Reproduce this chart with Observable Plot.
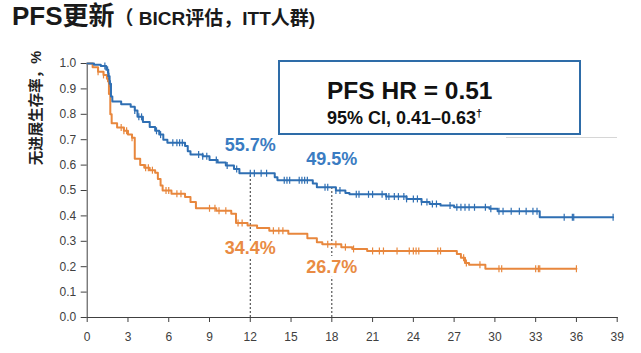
<!DOCTYPE html>
<html><head><meta charset="utf-8">
<script src="https://cdn.jsdelivr.net/npm/d3@7"></script>
<script src="https://cdn.jsdelivr.net/npm/@observablehq/plot@0.6"></script>
<style>
body{margin:0;background:#fff;}
#wrap{position:relative;width:641px;height:353px;font-family:"Liberation Sans",Arial,"Noto Sans CJK SC",sans-serif;overflow:hidden;background:#fff}
#title{position:absolute;left:12px;top:3px;font-weight:bold;color:#1a1a1a;white-space:nowrap;line-height:1}
#ylab{position:absolute;left:34px;top:108px;transform:translate(-50%,-50%) rotate(-90deg);font-size:14.5px;font-weight:bold;color:#222;white-space:nowrap}
#chart{position:absolute;left:0;top:45px}
#box{position:absolute;left:278px;top:60px;width:299px;height:71px;border:2px solid #2e6ca8;background:#fff}
#hr{position:absolute;left:47px;top:15px;font-size:24.5px;font-weight:bold;color:#111;white-space:nowrap}
#ci{position:absolute;left:47px;top:45px;font-size:18px;font-weight:bold;color:#111;white-space:nowrap}
#gline{position:absolute;left:506px;top:137px;width:111px;height:1px;background:#d6d6d6}
</style></head>
<body>
<div id="wrap">
  <div id="title"><span style="font-size:26px">PFS更新</span><span style="font-size:19px">（ BICR评估，ITT人群)</span></div>
  <div id="ylab">无进展生存率，%</div>
  <div id="chart"></div>
  <div id="gline"></div>
  <div id="box"><div id="hr">PFS HR = 0.51</div><div id="ci">95% CI, 0.41–0.63<sup style="font-size:11px">†</sup></div></div>
</div>
<script>
// Kaplan-Meier step data (months, survival probability)
const blueT = [0,0.5,1.0,1.4,1.55,1.65,1.75,1.85,2.5,3.2,3.5,3.7,4.1,4.6,5.0,5.3,5.6,5.9,7.2,7.4,7.6,8.5,9.0,9.6,10.2,10.8,11.2,13.8,14.0,16.6,16.9,18.3,19.0,19.3,22.0,23.5,24.6,25.2,26.0,27.0,29.6,30.2,33.3,38.7];
const blueS = [1.0,0.995,0.99,0.975,0.95,0.92,0.87,0.85,0.84,0.83,0.815,0.79,0.77,0.75,0.735,0.72,0.70,0.688,0.675,0.655,0.642,0.635,0.62,0.61,0.598,0.585,0.568,0.552,0.54,0.528,0.513,0.5,0.49,0.485,0.476,0.467,0.455,0.447,0.441,0.434,0.428,0.418,0.395,0.395];
const orangeT = [0,0.4,0.8,1.2,1.45,1.6,1.7,1.8,2.2,2.7,3.0,3.3,3.5,3.9,4.2,4.6,5.0,5.2,5.4,5.55,6.2,7.2,7.6,8.0,9.5,10.6,10.95,11.8,12.5,13.4,14.8,16.2,16.9,17.3,18.7,19.5,20.6,27.2,27.5,27.8,28.1,29.3,36.0];
const orangeS = [1.0,0.985,0.968,0.955,0.94,0.88,0.80,0.765,0.748,0.735,0.72,0.708,0.625,0.60,0.59,0.58,0.57,0.545,0.52,0.50,0.487,0.474,0.455,0.43,0.42,0.408,0.372,0.362,0.352,0.342,0.33,0.312,0.296,0.288,0.277,0.27,0.262,0.25,0.235,0.215,0.208,0.192,0.192];
// censoring times
const blueC = [1.3,1.5,1.6,1.7,3.5,3.8,4.0,5.1,5.4,6.3,6.6,6.8,7.0,8.2,8.5,8.8,9.5,10.3,11.0,12.0,12.3,12.8,13.2,14.5,14.7,14.9,15.6,15.8,16.0,16.2,17.5,17.7,18.3,18.6,19.8,20.0,20.7,21.0,21.7,22.0,22.2,22.6,22.9,23.3,23.5,24.0,24.3,24.6,25.0,25.4,25.7,26.7,27.2,27.5,27.8,28.1,28.5,29.3,29.7,30.3,30.6,31.2,31.8,32.3,32.8,33.1,35.1,35.7,35.8,38.7];
const orangeC = [0.8,1.2,1.5,2.5,2.7,2.9,3.3,4.3,4.5,4.8,5.8,6.0,6.6,6.9,9.0,9.4,9.7,10.2,11.1,11.4,13.7,14.1,14.4,17.7,18.3,19.0,19.6,21.0,21.5,21.8,22.8,23.7,24.0,24.2,24.4,25.8,26.0,27.7,27.9,28.9,30.3,30.5,33.0,33.2,33.3,36.0];
// landmark annotations
const landmarkT = [12, 18];
const blueLabels = ["55.7%", "49.5%"];
const orangeLabels = ["34.4%", "26.7%"];
const xTicks = [0,3,6,9,12,15,18,21,24,27,30,33,36,39];
const yTicks = [0,0.1,0.2,0.3,0.4,0.5,0.6,0.7,0.8,0.9,1.0];

const BLUE = "#2f6fb3", ORANGE = "#e8873d";
const BLUE_TXT = "#3a7cc2", ORANGE_TXT = "#e98b43";

function stepAt(T, S, t) { let v = S[0]; for (let i = 0; i < T.length; i++) { if (T[i] <= t) v = S[i]; } return v; }
const blueData = blueT.map((t, i) => ({t, s: blueS[i]}));
const orangeData = orangeT.map((t, i) => ({t, s: orangeS[i]}));
const blueCens = blueC.map(t => ({t, s: stepAt(blueT, blueS, t)}));
const orangeCens = orangeC.map(t => ({t, s: stepAt(orangeT, orangeS, t)}));
const landmarks = landmarkT.map((t, i) => ({t, b: stepAt(blueT, blueS, t), o: stepAt(orangeT, orangeS, t), bl: blueLabels[i], ol: orangeLabels[i]}));

const vtick = {draw(ctx, size) { const h = Math.sqrt(size / Math.PI); ctx.moveTo(0, -h); ctx.lineTo(0, h); }};

const chart = Plot.plot({
  width: 641, height: 308,
  marginLeft: 86.7, marginRight: 24.3, marginTop: 18, marginBottom: 36,
  style: {fontFamily: '"Liberation Sans", Arial, sans-serif', fontSize: "12px", color: "#404040", background: "transparent"},
  x: {domain: [0, 39], ticks: xTicks, tickSize: 5, tickPadding: 10, line: true, label: null, tickFormat: d => d},
  y: {domain: [0, 1], ticks: yTicks, tickSize: 6, tickPadding: 5, line: true, label: null, tickFormat: d3.format(".1f")},
  marks: [
    Plot.ruleX(landmarks, {x: "t", y1: 0, y2: "b", stroke: "#333", strokeWidth: 1, strokeDasharray: "2,2"}),
    Plot.line(orangeData, {x: "t", y: "s", curve: "step-after", stroke: ORANGE, strokeWidth: 2}),
    Plot.dot(orangeCens, {x: "t", y: "s", symbol: vtick, r: 3.5, fill: "none", stroke: ORANGE, strokeWidth: 1.2}),
    Plot.line(blueData, {x: "t", y: "s", curve: "step-after", stroke: BLUE, strokeWidth: 2}),
    Plot.dot(blueCens, {x: "t", y: "s", symbol: vtick, r: 3.5, fill: "none", stroke: BLUE, strokeWidth: 1.2}),
    Plot.text(landmarks, {x: "t", y: "b", text: "bl", dy: -28, fill: BLUE_TXT, fontSize: 18, fontWeight: "bold"}),
    Plot.text(landmarks, {x: "t", y: "o", text: "ol", dy: 23, fill: ORANGE_TXT, fontSize: 18, fontWeight: "bold", stroke: "white", strokeWidth: 8, paintOrder: "stroke"})
  ]
});
document.getElementById("chart").appendChild(chart);
</script>
</body></html>
